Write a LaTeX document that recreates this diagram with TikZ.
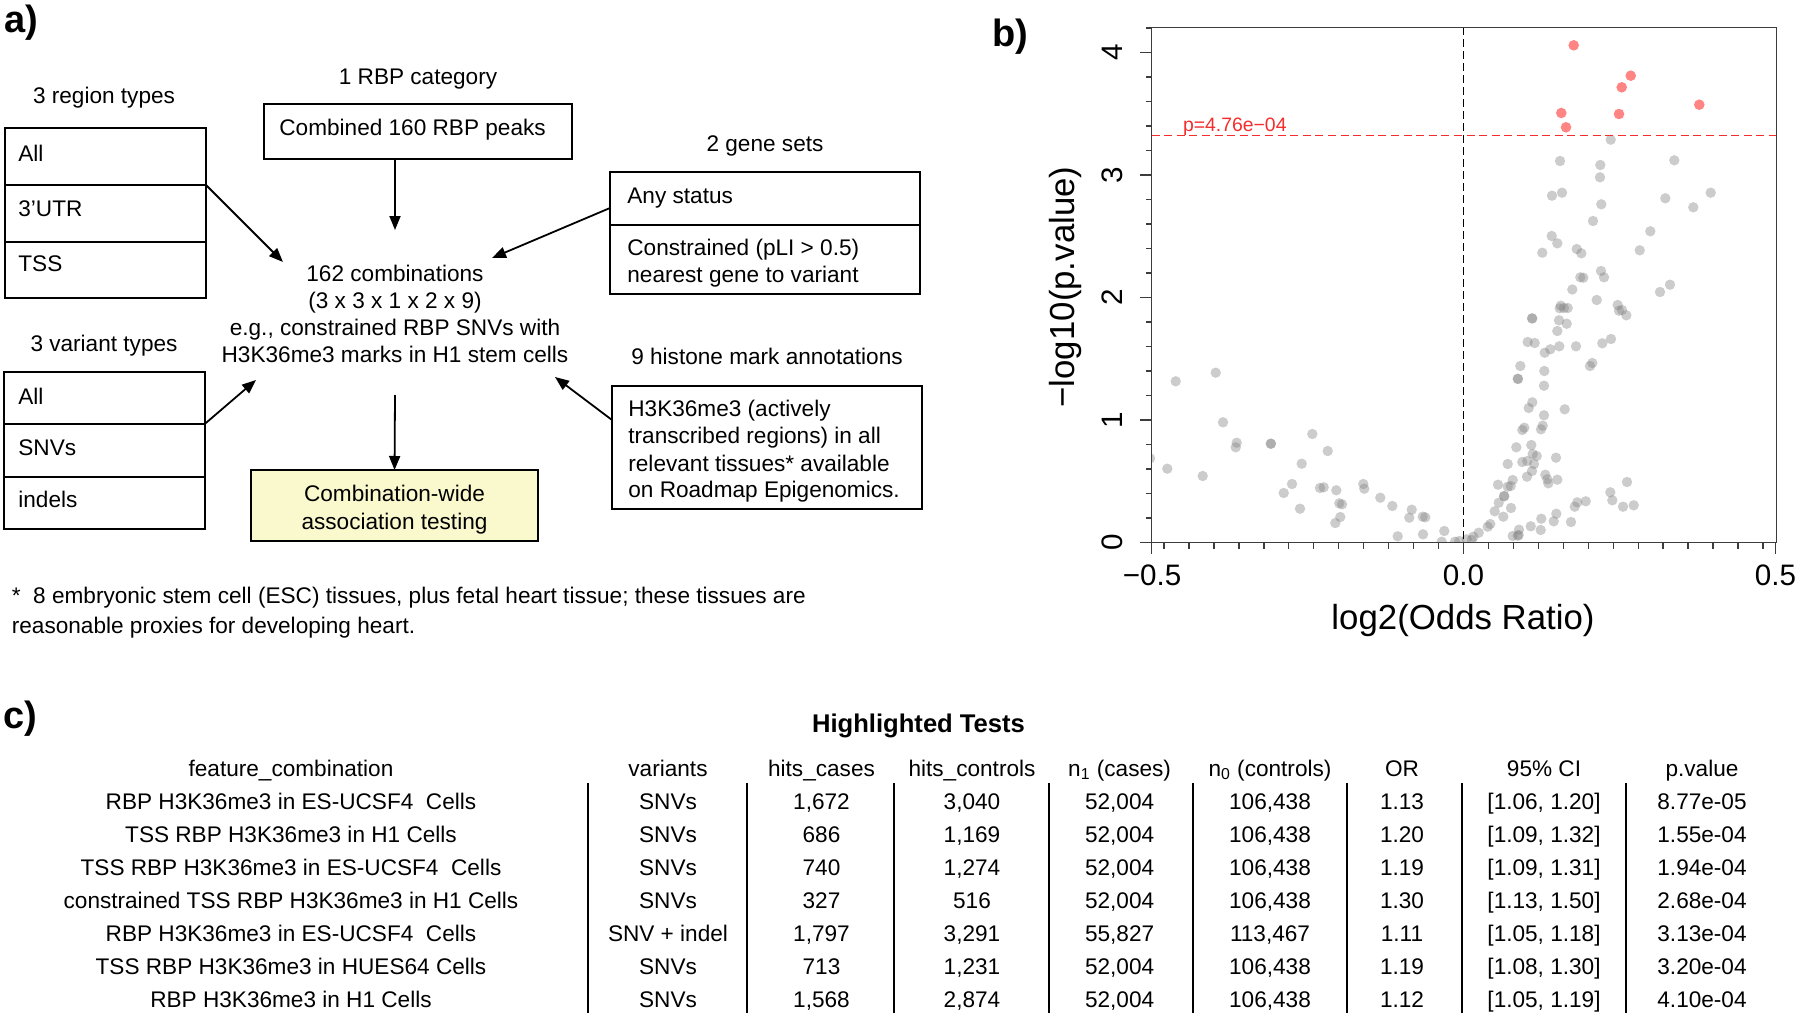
\documentclass[tikz,border=0pt]{standalone}
\usepackage{fontspec}
\setmainfont{Liberation Sans}
\usetikzlibrary{arrows.meta,calc}
\definecolor{boxyellow}{RGB}{250,249,205}
\definecolor{thr}{RGB}{245,45,45}
\definecolor{axisgray}{RGB}{60,60,60}
\newcommand\fa{\fontsize{11.3}{13.5}\selectfont}
\newcommand\ftick{\fontsize{14.8}{17}\selectfont}
\newcommand\ftitle{\fontsize{17.4}{20}\selectfont}
\newcommand\fplab{\fontsize{19}{22}\selectfont\bfseries}
\newcommand\fhead{\fontsize{12.8}{15}\selectfont\bfseries}
\newcommand\fthr{\fontsize{9.7}{11}\selectfont}
\tikzset{
  cell/.style={draw, line width=1pt, inner sep=0pt, outer sep=0pt, anchor=north west},
  lbl/.style={inner sep=0pt, font=\fa, anchor=base west},
  clbl/.style={inner sep=0pt, font=\fa, anchor=base},
  arr/.style={line width=0.9pt, -{Triangle[length=7pt,width=5.5pt]}},
  plab/.style={inner sep=0pt, font=\fplab},
  gdot/.style={fill=black!50, fill opacity=0.4},
  rdot/.style={fill=red, fill opacity=0.48},
  tickline/.style={axisgray, line width=0.7pt},
  tc/.style={inner sep=0pt, font=\fa, anchor=base},
  vline/.style={line width=0.8pt},
}
\newcommand\trow[9]{%
  \node[tc] (fc\rn) at (291,\ry) {#1};
  \node[tc] (va\rn) at (668,\ry) {#2};
  \node[tc] (hc\rn) at (821.5,\ry) {#3};
  \node[tc] (ht\rn) at (972,\ry) {#4};
  \node[tc] (na\rn) at (1119.6,\ry) {#5};
  \node[tc] (nb\rn) at (1270,\ry) {#6};
  \node[tc] (or\rn) at (1402,\ry) {#7};
  \node[tc] (ci\rn) at (1544,\ry) {#8};
  \node[tc] (pv\rn) at (1702,\ry) {#9};
}
\begin{document}
\begin{tikzpicture}[x=0.5pt,y=-0.5pt]
\useasboundingbox (0,0) rectangle (1800,1017);

% ---------------- panel labels
\node[plab] (la) at (21,23) {a)};
\node[plab] (lb) at (1010,37) {b)};
\node[plab] (lc) at (20,719) {c)};

% ---------------- panel a
\node[clbl] (regt) at (104,103) {3 region types};
\node[cell, minimum width=100.45pt, minimum height=28.25pt] (reg1) at (4.6,128) {};
\node[cell, minimum width=100.45pt, minimum height=28.5pt] (reg2) at (4.6,184.5) {};
\node[cell, minimum width=100.45pt, minimum height=28.25pt] (reg3) at (4.6,241.5) {};
\node[lbl] (reg1t) at (18,161) {All};
\node[lbl] (reg2t) at (18,216) {3’UTR};
\node[lbl] (reg3t) at (18,271) {TSS};

\node[clbl] (vart) at (104,351) {3 variant types};
\node[cell, minimum width=100.45pt, minimum height=26pt] (var1) at (3.8,372) {};
\node[cell, minimum width=100.45pt, minimum height=26.5pt] (var2) at (3.8,424) {};
\node[cell, minimum width=100.45pt, minimum height=26pt] (var3) at (3.8,477) {};
\node[lbl] (var1t) at (18,404) {All};
\node[lbl] (var2t) at (18,455) {SNVs};
\node[lbl] (var3t) at (18,507) {indels};

\node[clbl] (rbpt) at (418,84) {1 RBP category};
\node[cell, minimum width=154pt, minimum height=27.5pt] (rbp) at (264,103.5) {};
\node[lbl] (rbptx) at (279,135) {Combined 160 RBP peaks};

\node[clbl] (c1) at (395,281) {162 combinations};
\node[clbl] (c2) at (395,308) {(3 x 3 x 1 x 2 x 9)};
\node[clbl] (c3) at (395,335) {e.g., constrained RBP SNVs with};
\node[clbl] (c4) at (395,362) {H3K36me3 marks in H1 stem cells};

\node[cell, fill=boxyellow, minimum width=143.15pt, minimum height=35.5pt] (yel) at (251.4,470) {};
\node[clbl] (y1) at (394.5,501) {Combination-wide};
\node[clbl] (y2) at (394.5,529) {association testing};

\node[clbl] (genet) at (765,151) {2 gene sets};
\node[cell, minimum width=155pt, minimum height=26.5pt] (gene1) at (610,172) {};
\node[cell, minimum width=155pt, minimum height=34.5pt] (gene2) at (610,225) {};
\node[lbl] (g1t) at (627,203) {Any status};
\node[lbl] (g2t) at (627,255) {Constrained (pLI > 0.5)};
\node[lbl] (g3t) at (627,282) {nearest gene to variant};

\node[clbl] (hist) at (767,364) {9 histone mark annotations};
\node[cell, minimum width=155pt, minimum height=61.5pt] (hbox) at (612,386) {};
\node[lbl] (h1) at (628,416) {H3K36me3 (actively};
\node[lbl] (h2) at (628,443) {transcribed regions) in all};
\node[lbl] (h3) at (628,471) {relevant tissues* available};
\node[lbl] (h4) at (628,497) {on Roadmap Epigenomics.};

\node[lbl] (fn1) at (11.5,603) {*\ \ 8 embryonic stem cell (ESC) tissues, plus fetal heart tissue; these tissues are};
\node[lbl] (fn2) at (11.5,633) {reasonable proxies for developing heart.};

\coordinate (tipreg) at (283,262);
\coordinate (tipgene) at (492,258);
\coordinate (tipvar) at (256,380);
\coordinate (tiphis) at (555,377);
\coordinate (tiprbp) at (395,230);
\coordinate (startdown) at (395,395);
\draw[arr] (reg1.south east) -- (tipreg);
\draw[arr] ($(gene1.south west)+(0,-17)$) -- (tipgene);
\draw[arr] (var1.south east) -- (tipvar);
\draw[arr] ($(hbox.north west)+(0,34)$) -- (tiphis);
\draw[arr] (rbp.south -| tiprbp) -- (tiprbp);
\draw[arr] (startdown) -- (yel.north);

% ---------------- panel b
\begin{scope}
\clip (1151.5,27.3) rectangle (1776.5,542.3);
\foreach \p/\q in {1175.7/381.3, 1215.7/372.7, 1223/422.3, 1236.7/442.7, 1235.7/447.3, 1270.7/443.7, 1271/443.7, 1312.3/434, 1327.7/451, 1301.7/463.7, 1167.3/468.7, 1202.7/476, 1150/458.3, 1283.7/493, 1292/484, 1300/508.7, 1320/488, 1323.7/487.3, 1336.3/490.3, 1339.3/503.3, 1342/504.3, 1340.3/517, 1335.3/523, 1363.3/484, 1364.3/488.7, 1380.3/497.7, 1392.3/506, 1411.7/509.7, 1409.3/517.7, 1422.7/516.7, 1425.3/517.3, 1397.7/536.3, 1423/534.3, 1444.3/531, 1441.7/541.7, 1455/541.7, 1459.3/541, 1466.7/539.3,
1610.7/139.7, 1560/161, 1600.3/165, 1674.3/160.3, 1600/177.3, 1552/195.7, 1562/192.7, 1601.3/204.3, 1665.3/198.3, 1693.3/207.3, 1710.7/192.7, 1593/221, 1650.3/231.3, 1551.7/236, 1557.3/243.3, 1542.3/252.7, 1576.7/249, 1581.3/253.3, 1639.7/250.3, 1601/271, 1580.3/277.3, 1583.3/277.7, 1604/277.3, 1670/284.7, 1572.3/289.5, 1660/292,
1596.7/300, 1560.7/305.7, 1559.7/308.3, 1564/308, 1567.7/308, 1617.7/305, 1619/310.7, 1622/310, 1626.3/315.3, 1532/318.3, 1532.3/318.5, 1559/320.3, 1566.7/323.7, 1557.3/331, 1527.7/342, 1534.7/343, 1559.3/346.3, 1576/346.3, 1602.3/343.3, 1611/339, 1544.7/352.7, 1550.3/349.3, 1520.3/366, 1544.3/371, 1590/366, 1592.3/363, 1517.7/378.7, 1518/379, 1544/385.7, 1532.3/402.3, 1528.7/408, 1564.7/409.3, 1544/415.3, 1542.7/425.7, 1541/429.3, 1524.3/427.7, 1522.3/430, 1516.3/447.3, 1531.3/445, 1532.7/454, 1536.7/456, 1556/457.7, 1527.3/461, 1522.3/462, 1534/464, 1507.7/464, 1532/471, 1527/476.7, 1545.3/474.7, 1547.3/479.3, 1548.3/483.3, 1557.3/479.7, 1627/482, 1498/484.7, 1507.7/486.7, 1510.7/486, 1512.7/480, 1504/496, 1504.3/496.3, 1498.7/502.7, 1494.7/511.3, 1511/508, 1503.3/516.7, 1610.3/492.3, 1612.3/500.3, 1623/506.7, 1633.7/505.3, 1585.7/501.3, 1577.3/502.3, 1574.7/506.7, 1556.3/513.7, 1541.3/518.7, 1553.7/521.3, 1571/522, 1530.7/526.3, 1540.7/530, 1519/529.7, 1518.7/535, 1517.7/535.7, 1512.7/536, 1490.3/524, 1487.7/526.7, 1478.7/532.7, 1473.3/536.7, 1471.7/540}
  \fill[gdot] (\p,\q) circle[radius=5.2];
\foreach \p/\q in {1573.7/45.3, 1630.7/75.7, 1621.7/87.3, 1699.3/104.7, 1561.3/113, 1619/114, 1566/127.3}
  \fill[rdot] (\p,\q) circle[radius=5.3];
\end{scope}

\draw[thr, line width=0.8pt, dash pattern=on 4pt off 2.3pt] (1151.5,135.3) -- (1776.5,135.3);
\draw[black, line width=0.7pt, dash pattern=on 3.6pt off 2.4pt] (1463.5,27.3) -- (1463.5,542.3);
\node[inner sep=0pt, anchor=base west, font=\fthr, text=thr] (thrt) at (1182.6,131.5) {p=4.76e−04};

\node[draw=axisgray, line width=0.7pt, inner sep=0pt, outer sep=0pt, anchor=north west,
      minimum width=312.5pt, minimum height=257.5pt] (plotbox) at (1151.5,27.3) {};
\foreach \i in {-12,...,12}
  \draw[tickline] ({1463.5+24.96*\i},542.3) -- ++(0,6.7);
\foreach \u in {-0.5,0,0.5}
  \draw[tickline] ({1463.5+624*\u},542.3) -- ++(0,12);
\foreach \j in {0,...,21}
  \draw[tickline] (1151.5,{542.3-24.5*\j}) -- ++(-6,0);
\foreach \v in {0,...,4}
  \draw[tickline] (1151.5,{542.3-122.5*\v}) -- ++(-11.5,0);
\foreach \v in {0,...,4}
  \node[rotate=90, inner sep=0pt, font=\ftick] (yl\v) at (1112,{542.3-122.5*\v}) {\v};
\node[inner sep=0pt, font=\ftick] (xl1) at (1152,575) {−0.5};
\node[inner sep=0pt, font=\ftick] (xl2) at (1463.5,575) {0.0};
\node[inner sep=0pt, font=\ftick] (xl3) at (1775.5,575) {0.5};
\node[inner sep=0pt, font=\ftitle] (xtit) at (1463,620) {log2(Odds Ratio)};
\node[inner sep=0pt, font=\ftitle, rotate=90] (ytit) at (1065,287) {−log10(p.value)};

% ---------------- panel c
\node[inner sep=0pt, anchor=base, font=\fhead] (ttl) at (918.5,732) {Highlighted Tests};
\def\rn{0}\def\ry{776}
\trow{feature\_combination}{variants}{hits\_cases}{hits\_controls}{n\textsubscript{1} (cases)}{n\textsubscript{0} (controls)}{OR}{95\% CI}{p.value}
\def\rn{1}\def\ry{809.8}
\trow{RBP H3K36me3 in ES-UCSF4\ \ Cells}{SNVs}{1,672}{3,040}{52,004}{106,438}{1.13}{[1.06, 1.20]}{8.77e-05}
\def\rn{2}\def\ry{842.7}
\trow{TSS RBP H3K36me3 in H1 Cells}{SNVs}{686}{1,169}{52,004}{106,438}{1.20}{[1.09, 1.32]}{1.55e-04}
\def\rn{3}\def\ry{875.6}
\trow{TSS RBP H3K36me3 in ES-UCSF4\ \ Cells}{SNVs}{740}{1,274}{52,004}{106,438}{1.19}{[1.09, 1.31]}{1.94e-04}
\def\rn{4}\def\ry{908.5}
\trow{constrained TSS RBP H3K36me3 in H1 Cells}{SNVs}{327}{516}{52,004}{106,438}{1.30}{[1.13, 1.50]}{2.68e-04}
\def\rn{5}\def\ry{941.4}
\trow{RBP H3K36me3 in ES-UCSF4\ \ Cells}{SNV + indel}{1,797}{3,291}{55,827}{113,467}{1.11}{[1.05, 1.18]}{3.13e-04}
\def\rn{6}\def\ry{974.3}
\trow{TSS RBP H3K36me3 in HUES64 Cells}{SNVs}{713}{1,231}{52,004}{106,438}{1.19}{[1.08, 1.30]}{3.20e-04}
\def\rn{7}\def\ry{1007.2}
\trow{RBP H3K36me3 in H1 Cells}{SNVs}{1,568}{2,874}{52,004}{106,438}{1.12}{[1.05, 1.19]}{4.10e-04}
\foreach \xx in {588,747,894,1049,1193,1347,1462,1626}
  \draw[vline] (\xx,783) -- (\xx,1013);
\end{tikzpicture}
\end{document}
